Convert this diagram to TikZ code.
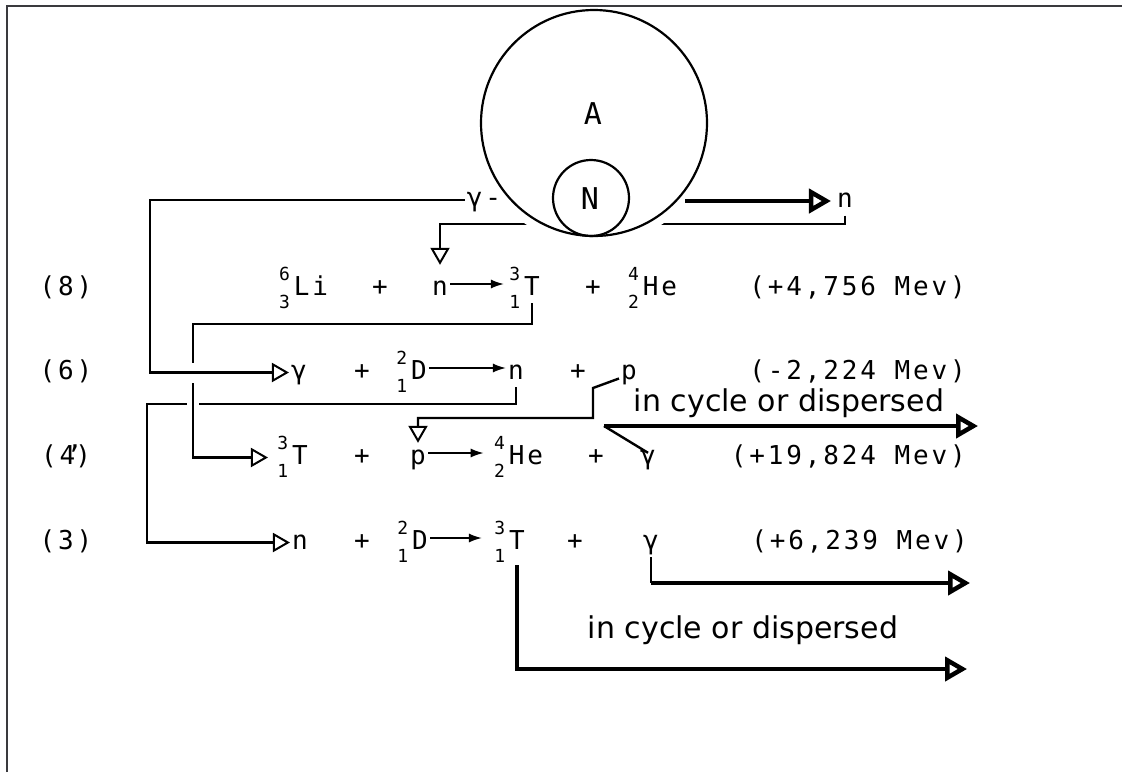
\documentclass[tikz,border=0pt]{standalone}
\usepackage{fontspec}
\setmainfont{DejaVu Sans}
\newfontfamily\tw{DejaVu Sans Mono}[LetterSpace=11]
\usetikzlibrary{arrows.meta}
\definecolor{framegray}{HTML}{3A3A3E}
% mass number over charge number, hung left of the symbol
\newcommand\iso[2]{\llap{\smash{\fontsize{18}{18}\selectfont\ooalign{\hfil\raisebox{15pt}{#1}\cr\hfil\raisebox{-13pt}{#2}}}\kern4pt}}
\tikzset{
  eq/.style={font=\tw\fontsize{26}{26}\selectfont, inner sep=2pt, text height=19pt, text depth=6pt},
  big/.style={font=\tw\fontsize{30}{30}\selectfont, inner sep=0pt},
  note/.style={font=\fontsize{30}{30}\selectfont, inner sep=0pt},
  flow/.style={line width=2.4pt, -{Triangle[open, length=17pt, width=19pt, line width=2pt]}},
  react/.style={line width=1.8pt, -{Latex[length=13pt, width=9pt]}, transform canvas={yshift=4.5pt}},
  outarrow/.style={line width=4.5pt, -{Triangle[open, length=22pt, width=24pt]}},
  link/.style={line width=2.4pt},
  halo/.style={preaction={draw, white, line width=#1, -}},
}
\begin{document}
\begin{tikzpicture}[x=1pt, y=-1pt]
    \useasboundingbox (0,0) rectangle (1122,772);
    \def\ya{288.5}
    \def\yb{372.5}
    \def\yc{457.5}
    \def\yd{542.5}

    % reaction labels
    \node[eq] (l8) at (66,\ya) {(8)};
    \node[eq] (l6) at (66,\yb) {(6)};
    \node[eq] (l4) at (66,\yc) {(4\rlap{\kern-9pt’})};
    \node[eq] (l3) at (66,\yd) {(3)};

    % (8)
    \node[eq] (li8) at (311,\ya) {\iso{6}{3}Li};
    \node[eq] (pl8a) at (380,\ya) {+};
    \node[eq] (n8) at (440,\ya) {n};
    \node[eq] (t8) at (532,\ya) {\iso{3}{1}T};
    \node[eq] (pl8b) at (593,\ya) {+};
    \node[eq] (he8) at (660,\ya) {\iso{4}{2}He};
    \node[eq, anchor=east] (e8) at (968,\ya) {(+4,756 Mev)};

    % (6)
    \node[eq] (g6) at (299,\yb) {γ};
    \node[eq] (pl6a) at (362,\yb) {+};
    \node[eq] (d6) at (419,\yb) {\iso{2}{1}D};
    \node[eq] (n6) at (516,\yb) {n};
    \node[eq] (pl6b) at (578,\yb) {+};
    \node[eq] (p6) at (629,\yb) {p};
    \node[eq, anchor=east] (e6) at (968,\yb) {(-2,224 Mev)};

    % (4')
    \node[eq] (t4) at (300,\yc) {\iso{3}{1}T};
    \node[eq] (pl4a) at (362,\yc) {+};
    \node[eq] (p4) at (418,\yc) {p};
    \node[eq] (he4) at (526,\yc) {\iso{4}{2}He};
    \node[eq] (pl4b) at (596,\yc) {+};
    \node[eq] (g4) at (648,\yc) {γ};
    \node[eq, anchor=east] (e4) at (968,\yc) {(+19,824 Mev)};

    % (3)
    \node[eq] (n3) at (300,\yd) {n};
    \node[eq] (pl3a) at (362,\yd) {+};
    \node[eq] (d3) at (420,\yd) {\iso{2}{1}D};
    \node[eq] (t3) at (517,\yd) {\iso{3}{1}T};
    \node[eq] (pl3b) at (575,\yd) {+};
    \node[eq] (g3) at (651,\yd) {γ};
    \node[eq, anchor=east] (e3) at (970,\yd) {(+6,239 Mev)};

    % particles leaving the shell
    \node[eq] (gtop) at (484,200) {γ-};
    \node[eq] (ntop) at (845,201) {n};
    \node[note] (cyc1) at (789,403) {in cycle or dispersed};
    \node[note] (cyc2) at (743,630) {in cycle or dispersed};

    \coordinate (nlow) at (0,224);
    \coordinate (gx) at (150,0);
    \coordinate (tx) at (193,324);
    \coordinate (nx) at (147,404);
    \coordinate (pk) at (593,388);
    \coordinate (pb) at (593,418);

    % cycle connectors
    \draw[flow, shorten >=9pt] (ntop.south) |- (n8.north |- nlow) -- (n8.north);
    \draw[flow] (n6.south) |- (nx) -- (nx |- n3.west) -- (n3.west);
    \draw[flow, halo=12pt, shorten >=22pt] (t8.south) |- (tx) -- (tx |- t4.west) -- (t4.west);
    \draw[flow, halo=20pt] (gtop.west) -| (gx |- g6.west) -- (g6.west);
    \draw[flow] ([yshift=-6pt]p6.west) -- (pk) -- (pb) -| (p4.north);

    % reactions
    \draw[react, shorten >=18pt] (n8) -- (t8);
    \draw[react] (d6) -- (n6);
    \draw[react, shorten >=23pt] (p4) -- (he4);
    \draw[react, shorten >=25pt] (d3) -- (t3);

    % out of the cycle
    \coordinate (g4k) at (604,426);
    \coordinate (g4o) at (978,426);
    \draw[link] ([yshift=-10pt]g4.north) -- (g4k);
    \draw[outarrow] (g4k) -- (g4o);
    \coordinate (g3k) at (651,583);
    \coordinate (g3o) at (970,583);
    \draw[link] (g3.south) -- (g3k);
    \draw[outarrow] (g3k) -- (g3o);
    \coordinate (t3o) at (967,669);
    \draw[outarrow, shorten <=8pt] (t3.south) |- (t3o);

    % shell A and core N
    \fill[white] (594,123) circle (122);
    \draw[line width=2.2pt] (594,123) circle (113);
    \draw[line width=2.2pt] (591,198) circle (38);
    \node[big] (A) at (593,114) {A};
    \node[big] (N) at (590,199) {N};
    \coordinate (nout) at (685,0);
    \draw[outarrow, shorten >=4pt] (nout |- ntop.west) -- (ntop.west);

    \draw[framegray, line width=2.5pt] (7,772) -- (7,6) -- (1122,6);
\end{tikzpicture}
\end{document}
